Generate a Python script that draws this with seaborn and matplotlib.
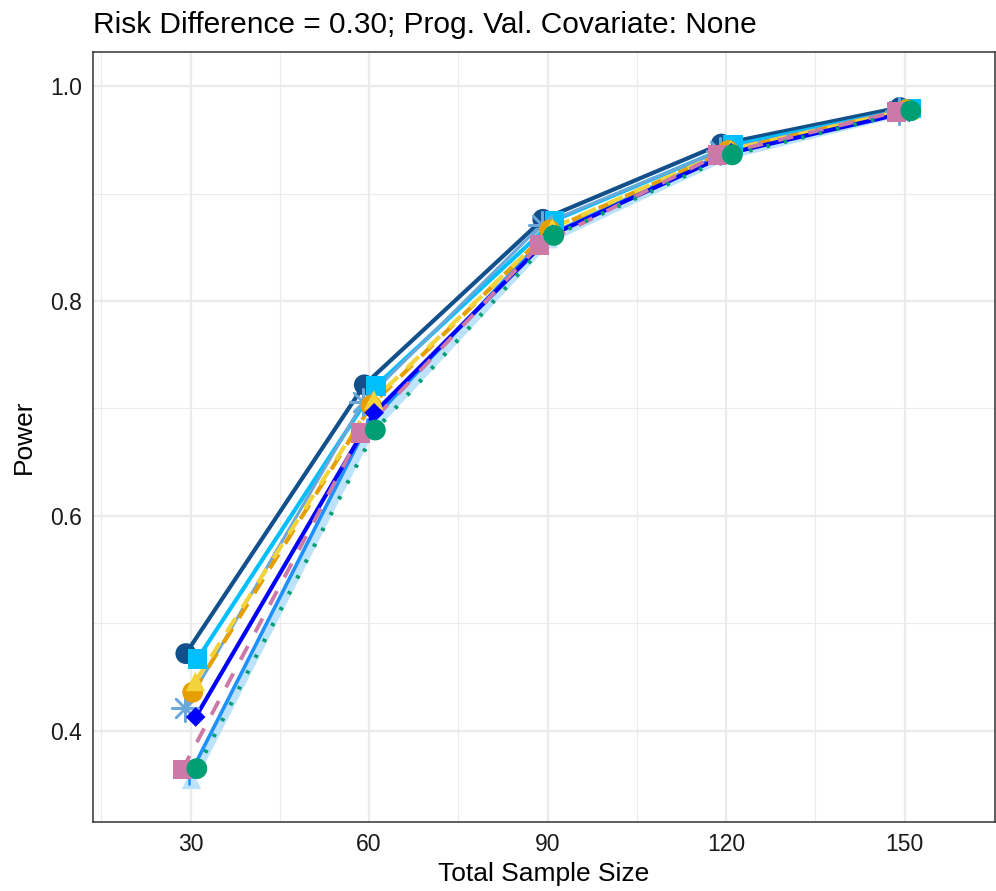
import matplotlib
matplotlib.use("Agg")
import matplotlib.pyplot as plt
import seaborn as sns
import pandas as pd
import numpy as np

# Total sample sizes on the x axis
sample_sizes = [30, 60, 90, 120, 150]

# Power estimates for each analysis method
power_navy_circle = [0.472, 0.722, 0.876, 0.946, 0.980]
power_sky_square = [0.467, 0.721, 0.875, 0.945, 0.979]
power_gold_triangle = [0.446, 0.708, 0.868, 0.941, 0.978]
power_orange_circle = [0.436, 0.703, 0.866, 0.940, 0.978]
power_steel_asterisk = [0.421, 0.706, 0.871, 0.940, 0.977]
power_blue_diamond = [0.413, 0.696, 0.862, 0.938, 0.976]
power_pink_square = [0.364, 0.677, 0.852, 0.936, 0.976]
power_green_circle = [0.365, 0.680, 0.861, 0.936, 0.977]
power_light_triangle = [0.355, 0.680, 0.858, 0.936, 0.977]
power_dodger_plus = [0.357, 0.684, 0.860, 0.937, 0.977]

# Styling per method: (values, colour, line style, line width, marker, marker size, dodge offset, z)
series = [
    (power_light_triangle, "#BDE3FA", "-", 7.0, "^", 14, 0.15, 1),
    (power_dodger_plus, "#1E90FF", "-", 2.6, "+", 12, -0.35, 2),
    (power_navy_circle, "#12508C", "-", 3.0, "o", 15, -0.80, 3),
    (power_sky_square, "#00BFFF", "-", 3.0, "s", 14, 1.15, 4),
    (power_steel_asterisk, "#6AA7DA", "-", 2.2, (8, 2, 0), 19, -1.00, 5),
    (power_orange_circle, "#E69F00", (0, (4, 3)), 3.0, "o", 15, 0.35, 6),
    (power_gold_triangle, "#F2D43A", (0, (4, 3)), 3.0, "^", 14, 0.80, 7),
    (power_blue_diamond, "#0000FF", "-", 3.0, "D", 10, 0.85, 8),
    (power_pink_square, "#CC79A7", (0, (4, 4)), 2.8, "s", 14, -1.40, 9),
    (power_green_circle, "#009E73", (0, (0.8, 3.5)), 3.0, "o", 15, 1.05, 10),
]

sns.set_theme(style="whitegrid")
plt.rcParams["font.family"] = ["Liberation Sans", "DejaVu Sans"]

fig = plt.figure(figsize=(9.96, 8.91), dpi=100)
ax = fig.add_axes([0.0934, 0.0774, 0.9056, 0.8642])

frames = []
for i, (vals, col, ls, lw, mk, ms, off, z) in enumerate(series):
    df = pd.DataFrame({"size": sample_sizes, "power": vals})
    df["pos"] = df["size"] + off
    sns.lineplot(data=df, x="pos", y="power", color=col, linestyle=ls,
                 linewidth=lw, ax=ax, zorder=z, estimator=None, sort=False)
    frames.append((df, col, mk, ms, z))

for df, col, mk, ms, z in frames:
    mew = 1.8 if mk in ("+",) or isinstance(mk, tuple) else 0
    sns.scatterplot(data=df, x="pos", y="power", color=col, marker=mk,
                    s=ms ** 2, linewidth=mew, edgecolor=col if mew else "none",
                    ax=ax, zorder=20 + z)

ax.set_xlim(13.6, 165.2)
ax.set_ylim(0.3153, 1.0316)
ax.set_xticks(sample_sizes)
ax.set_xticks([15, 45, 75, 105, 135, 165], minor=True)
ax.set_yticks([0.4, 0.6, 0.8, 1.0])
ax.set_yticks([0.5, 0.7, 0.9], minor=True)
ax.set_yticklabels(["0.4", "0.6", "0.8", "1.0"])

ax.grid(which="major", color="#EBEBEB", linewidth=1.6)
ax.grid(which="minor", color="#EBEBEB", linewidth=0.8)
ax.set_axisbelow(True)
for sp in ax.spines.values():
    sp.set_color("#333333")
    sp.set_linewidth(1.1)
    sp.set_visible(True)

ax.tick_params(axis="both", which="major", length=5, width=1.1, color="#333333",
               labelsize=16.5, labelcolor="#1A1A1A", pad=3)
ax.tick_params(axis="both", which="minor", length=0)

ax.set_xlabel("Total Sample Size", fontsize=19, color="black", labelpad=4)
ax.set_ylabel("Power", fontsize=19, color="black", labelpad=10)
ax.set_title("Risk Difference = 0.30; Prog. Val. Covariate: None", loc="left",
             fontsize=21.5, color="black", pad=14)

fig.savefig("out.png", dpi=100)
